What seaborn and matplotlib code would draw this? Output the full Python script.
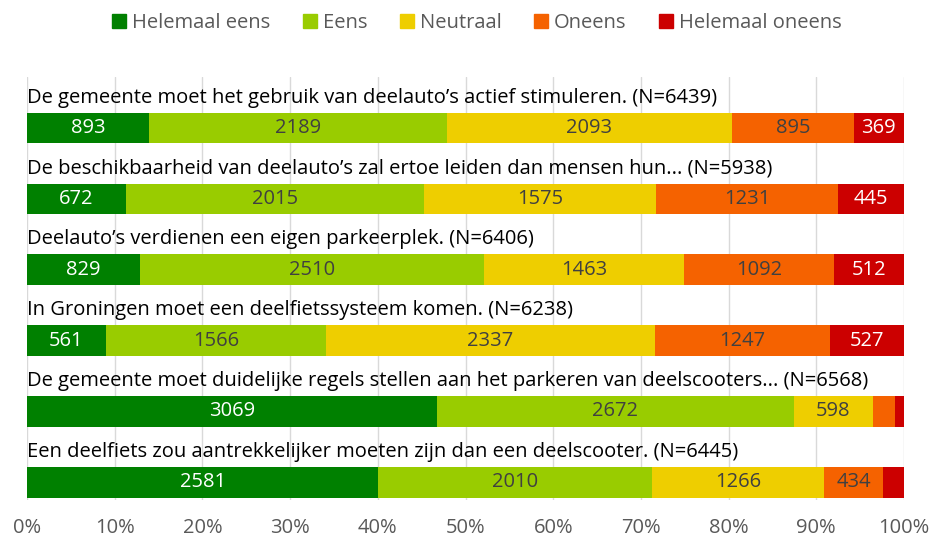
import numpy as np
import pandas as pd
import seaborn as sns
import matplotlib.pyplot as plt

# Kleuren
GREEN  = "#008000"
LIME   = "#99CC00"
YELLOW = "#EECE00"
ORANGE = "#F56200"
RED    = "#CC0000"
TEXT   = "#404040"
GRID   = "#D9D9D9"

statements = [
    "De gemeente moet het gebruik van deelauto\u2019s actief stimuleren. (N=6439)",
    "De beschikbaarheid van deelauto\u2019s zal ertoe leiden dan mensen hun... (N=5938)",
    "Deelauto\u2019s verdienen een eigen parkeerplek. (N=6406)",
    "In Groningen moet een deelfietssysteem komen. (N=6238)",
    "De gemeente moet duidelijke regels stellen aan het parkeren van deelscooters... (N=6568)",
    "Een deelfiets zou aantrekkelijker moeten zijn dan een deelscooter. (N=6445)",
]
categories = ["Helemaal eens", "Eens", "Neutraal", "Oneens", "Helemaal oneens"]
helemaal_eens   = [893, 672, 829, 561, 3069, 2581]
eens            = [2189, 2015, 2510, 1566, 2672, 2010]
neutraal        = [2093, 1575, 1463, 2337, 598, 1266]
oneens          = [895, 1231, 1092, 1247, 165, 434]
helemaal_oneens = [369, 445, 512, 527, 64, 154]
x_ticks = [0, 10, 20, 30, 40, 50, 60, 70, 80, 90, 100]

colors = [GREEN, LIME, YELLOW, ORANGE, RED]
label_colors = ["white", TEXT, TEXT, TEXT, "white"]
FS = 14.5

counts = np.array([helemaal_eens, eens, neutraal, oneens, helemaal_oneens], dtype=float)
pct = counts / counts.sum(axis=0) * 100
cum = pct.cumsum(axis=0)

rows = []
for k, cat in enumerate(categories):
    for i, st in enumerate(statements):
        rows.append({"stelling": st, "categorie": cat, "cum": cum[k, i],
                     "pct": pct[k, i], "n": int(counts[k, i])})
df = pd.DataFrame(rows)

sns.set_style("white")
plt.rcParams['font.family'] = ['Open Sans', 'DejaVu Sans']

fig = plt.figure(figsize=(9.33, 5.40), dpi=100)
ax = fig.add_axes([27 / 933, 40 / 540, 877 / 933, 423 / 540])

# gestapelde balken: van achter naar voren tekenen
for k in reversed(range(len(categories))):
    sub = df[df["categorie"] == categories[k]]
    sns.barplot(data=sub, x="cum", y="stelling", orient="h", color=colors[k],
                width=0.43, saturation=1, ax=ax, zorder=3, linewidth=0)

for k in range(len(categories)):
    sub = df[df["categorie"] == categories[k]].reset_index(drop=True)
    for i, r in sub.iterrows():
        if r["pct"] >= 3:
            ax.text(r["cum"] - r["pct"] / 2, i, str(r["n"]), ha="center", va="center",
                    color=label_colors[k], fontsize=FS, zorder=5)

for i, st in enumerate(statements):
    ax.text(0, i - 0.43, st, ha="left", va="center", color="black", fontsize=FS, zorder=5)

ax.set_xlim(0, 100)
ax.set_ylim(5.25, -0.72)
ax.set_xticks(x_ticks)
ax.set_xticklabels([f"{t}%" for t in x_ticks], color="#595959", fontsize=FS)
ax.set_yticks([])
ax.set_xlabel("")
ax.set_ylabel("")
ax.tick_params(axis="x", length=0, pad=13)
ax.grid(axis="x", color=GRID, linewidth=1, zorder=0)
for s in ax.spines.values():
    s.set_visible(False)

handles = [plt.Rectangle((0, 0), 1, 1, color=c) for c in colors]
fig.legend(handles, categories, loc="center", bbox_to_anchor=(0.511, 1 - 23 / 540), ncol=5,
           frameon=False, handlelength=0.7, handleheight=0.7, handletextpad=0.3,
           columnspacing=1.6, fontsize=FS, labelcolor="#595959")

fig.savefig("out.png", dpi=100)
